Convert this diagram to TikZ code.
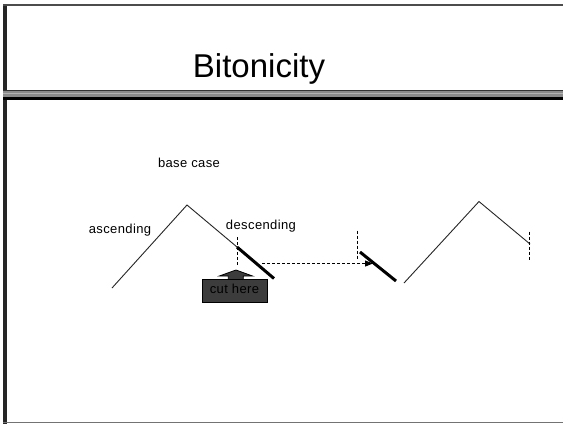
\documentclass[tikz,border=0pt]{standalone}
\usepackage{fontspec}
\setmainfont{Liberation Sans}
\newfontfamily\labelfont[LetterSpace=3]{Liberation Sans}
\usetikzlibrary{arrows.meta}

\definecolor{boxgray}{HTML}{3C3C3C}
\definecolor{bandgray}{HTML}{8A8A8A}

\tikzset{
  thinline/.style={draw=black!85, line width=0.9pt},
  thickline/.style={draw=black, line width=3pt},
  dashline/.style={draw=black, line width=1pt, dash pattern=on 3pt off 2pt},
  lbl/.style={font=\labelfont\fontsize{13}{15}\selectfont, anchor=base, inner sep=0pt},
}

\begin{document}
\begin{tikzpicture}[x=1pt, y=-1pt]
\useasboundingbox (0,0) rectangle (563,424);
\fill[white] (0,0) rectangle (563,424);

% slide frame
\draw[line width=3.4pt, black!85] (5,4) -- (5,424);
\draw[line width=2pt, black!70] (3.3,5) -- (563,5);
\draw[line width=1.5pt, black!55] (3.3,422.3) -- (563,422.3);

% title separator band
\fill[bandgray] (3.3,89.5) rectangle (563,96.5);
\draw[black!80, line width=1pt] (3.3,90) -- (563,90);
\draw[black!30, line width=1pt] (3.3,93.2) -- (563,93.2);
\fill[black] (3.3,96.5) rectangle (563,99.5);

% title
\node[anchor=base, inner sep=0pt, font=\fontsize{33}{38}\selectfont] (title) at (259,77.3) {Bitonicity};

% labels
\node[lbl] (basecase) at (189,167) {base case};
\node[lbl] (asc) at (120,233) {ascending};
\node[lbl] (desc) at (261,229) {descending};

% first peak
\coordinate (a1) at (112,288);
\coordinate (p1) at (187,205);
\coordinate (c1) at (237,247);
\coordinate (e1) at (274,278.5);
\draw[thinline] (a1) -- (p1) -- (c1);
\draw[thickline] (c1) -- (e1);

% cut marker on the first peak
\coordinate (c1top) at (237,237);
\coordinate (c1bot) at (237,265);
\draw[dashline] (c1top) -- (c1bot);

% moved piece
\coordinate (s2) at (360,252);
\coordinate (e2) at (396,281);
\draw[thickline] (s2) -- (e2);
\coordinate (m1) at (262,263.5);
\coordinate (m2) at (373,263.5);
\draw[dashline, -{Triangle[length=8pt,width=6pt]}] (m1) -- (m2);
\coordinate (d2top) at (357.3,230.5);
\coordinate (d2bot) at (357.3,260);
\draw[dashline] (d2top) -- (d2bot);

% second peak
\coordinate (a2) at (404,283);
\coordinate (p2) at (479,201.5);
\coordinate (c3) at (530,244);
\draw[thinline] (a2) -- (p2) -- (c3);
\coordinate (d3top) at (529.5,231.5);
\coordinate (d3bot) at (529.5,261);
\draw[dashline] (d3top) -- (d3bot);

% "cut here" box with block arrow
\node[draw=black, fill=boxgray, line width=0.8pt, minimum width=64.6pt, minimum height=23.2pt, inner sep=0pt] (cut) at (235,291.1) {};
\filldraw[fill=boxgray, draw=black, line width=0.8pt]
  (228.3,279.5) -- (228.3,276) -- (219.3,276) -- (236,270) -- (252.5,276) -- (243.3,276) -- (243.3,279.5) -- cycle;
\node[lbl, text=black] (cuttext) at (234.5,293.3) {cut here};
\end{tikzpicture}
\end{document}
